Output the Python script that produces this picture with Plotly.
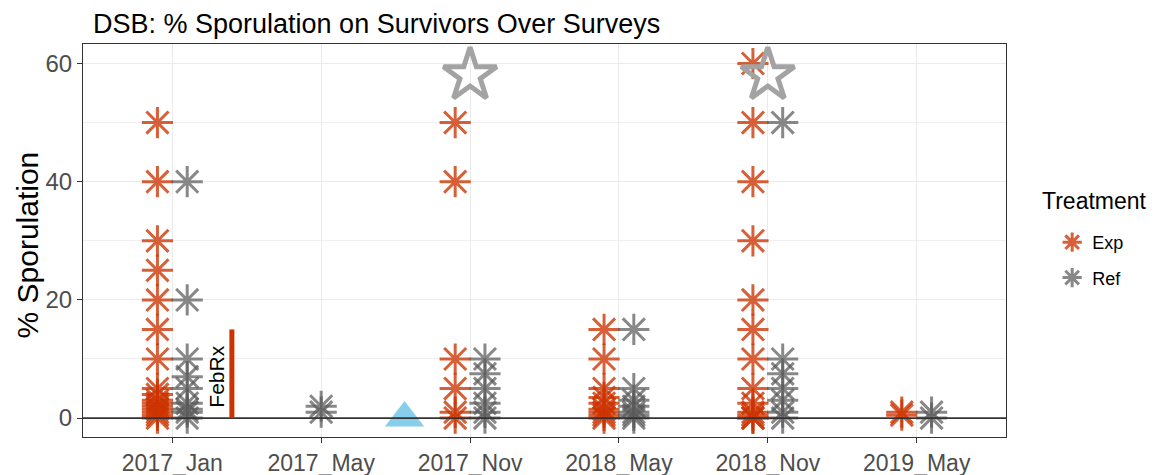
import plotly.graph_objects as go

categories = ["2017_Jan", "2017_May", "2017_Nov", "2018_May", "2018_Nov", "2019_May"]

# Exp (treated) % sporulation per survey
exp_survey = (["2017_Jan"] * 16 + ["2017_Nov"] * 6 + ["2018_May"] * 9 +
              ["2018_Nov"] * 13 + ["2019_May"] * 2)
exp_values = ([50, 40, 30, 25, 20, 15, 10, 5, 4, 3, 2.5, 2, 1.5, 1, 0.5, 0] +
              [50, 40, 10, 5, 1, 0] +
              [15, 10, 5, 3.5, 2.5, 1.5, 1, 0.5, 0] +
              [60, 50, 40, 30, 20, 15, 10, 5, 2.5, 1, 0.5, 0, 0] +
              [1, 0.5])

# Ref (reference) % sporulation per survey
ref_survey = (["2017_Jan"] * 9 + ["2017_May"] * 2 + ["2017_Nov"] * 6 +
              ["2018_May"] * 7 + ["2018_Nov"] * 7 + ["2019_May"] * 2)
ref_values = ([40, 20, 10, 7, 5, 2.5, 1.5, 1, 0] +
              [2, 1] +
              [10, 7.5, 5, 2.5, 1, 0] +
              [15, 5, 3, 2, 1, 0.5, 0] +
              [50, 10, 7.5, 5, 3, 1, 0] +
              [1, 0])

# Star annotations (outbreak markers)
star_survey = ["2017_Nov", "2018_Nov"]
star_values = [58, 58]

# Triangle event marker
tri_position = [1.56]
tri_values = [0]

# FebRx treatment bar
rx_position = 0.4
rx_range = [0, 15]
rx_label = "FebRx"

idx = {c: i for i, c in enumerate(categories)}

def dodge(surveys, side):
    out = []
    for s in surveys:
        only_one = (s not in exp_survey) or (s not in ref_survey)
        out.append(idx[s] + (0 if only_one else side * 0.1))
    return out

EXP_COL = "rgba(204,51,0,0.78)"
REF_COL = "rgba(90,90,90,0.72)"
FONT = "Liberation Sans, Arial, sans-serif"

# page body has an 8px margin; figure is sized to fit the window
W, H = 1149, 467
ML, MR, MT, MB = 75, 151, 36, 38

fig = go.Figure()

# zero line
fig.add_shape(type="line", xref="paper", x0=0, x1=1, yref="y", y0=0, y1=0,
              line=dict(color="#333333", width=1.6), layer="above")

fig.add_trace(go.Scatter(
    x=dodge(exp_survey, -1), y=exp_values, mode="markers", name="Exp",
    legendgroup="exp",
    marker=dict(symbol="asterisk-open", size=26,
                line=dict(color=EXP_COL, width=3), color=EXP_COL)))
fig.add_trace(go.Scatter(
    x=dodge(ref_survey, 1), y=ref_values, mode="markers", name="Ref",
    legendgroup="ref",
    marker=dict(symbol="asterisk-open", size=26,
                line=dict(color=REF_COL, width=3), color=REF_COL)))

fig.add_trace(go.Scatter(
    x=[idx[s] for s in star_survey], y=star_values, mode="markers",
    showlegend=False,
    marker=dict(symbol="star-open", size=40,
                line=dict(color="#A3A3A3", width=5), color="#A3A3A3")))

fig.add_trace(go.Scatter(
    x=tri_position, y=tri_values, mode="markers", showlegend=False,
    marker=dict(symbol="triangle-up", size=34, color="#87CEEB",
                line=dict(width=0))))

fig.add_shape(type="line", xref="x", yref="y", x0=rx_position, x1=rx_position,
              y0=rx_range[0], y1=rx_range[1],
              line=dict(color="#CC3300", width=5))
fig.add_annotation(x=rx_position - 0.1, y=7, text=rx_label, textangle=-90,
                   showarrow=False, font=dict(size=21, color="black", family=FONT))

# y-axis title as annotation (precise placement)
fig.add_annotation(xref="paper", yref="paper", x=0, y=0.5, xshift=-56, yshift=-5,
                   xanchor="center", yanchor="middle", textangle=-90,
                   text="% Sporulation", showarrow=False,
                   font=dict(size=30, color="black", family=FONT))

# legend title as annotation
fig.add_annotation(xref="paper", yref="paper", x=1.0368, y=0.6005,
                   xanchor="left", yanchor="middle", text="Treatment",
                   showarrow=False, font=dict(size=23, color="black", family=FONT))

fig.update_layout(
    width=W, height=H,
    margin=dict(l=ML, r=MR, t=MT, b=MB),
    paper_bgcolor="white", plot_bgcolor="white",
    font=dict(family=FONT),
    title=dict(text="DSB: % Sporulation on Survivors Over Surveys",
               x=85 / W, xanchor="left", y=1 - 16 / H, yanchor="middle",
               font=dict(size=27, color="black")),
    legend=dict(x=1.050, xanchor="left", y=0.542, yanchor="top",
                font=dict(size=18, color="black"), tracegroupgap=9,
                itemsizing="trace"),
    showlegend=True,
)

fig.update_xaxes(
    range=[-0.6, 5.6], tickmode="array", tickvals=list(range(len(categories))),
    ticktext=categories, showgrid=True, gridcolor="#EBEBEB", gridwidth=1,
    zeroline=False, showline=True, linecolor="#333333", linewidth=1.2,
    mirror=True, ticks="outside", ticklen=5, tickcolor="#333333",
    tickfont=dict(size=23, color="#4D4D4D"), automargin=False)

fig.update_yaxes(
    range=[-3.2, 63.3], tickmode="array", tickvals=[0, 20, 40, 60],
    showgrid=True, gridcolor="#EBEBEB", gridwidth=1.2,
    minor=dict(tickvals=[10, 30, 50], showgrid=True, gridcolor="#EFEFEF",
               gridwidth=1),
    zeroline=False, showline=True, linecolor="#333333", linewidth=1.2,
    mirror=True, ticks="outside", ticklen=5, tickcolor="#333333",
    tickfont=dict(size=24, color="#4D4D4D"), automargin=False)

fig.write_html("out.html")
